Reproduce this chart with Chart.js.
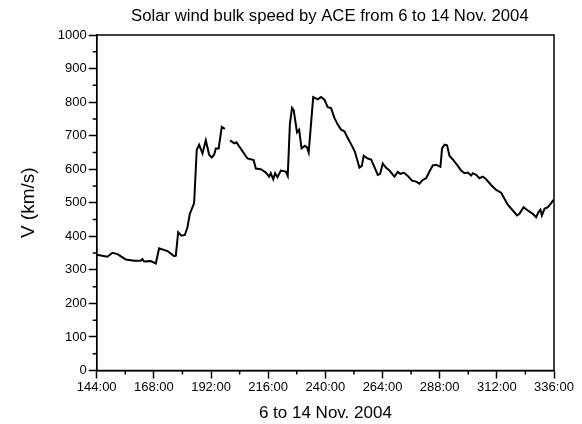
<!DOCTYPE html>
<html>
<head>
<meta charset="utf-8">
<script src="https://cdn.jsdelivr.net/npm/chart.js@4.4.1/dist/chart.umd.min.js"></script>
<style>
  html, body { margin: 0; padding: 0; background: #fff; }
  #wrap { width: 582px; height: 424px; }
</style>
</head>
<body>
<div id="wrap"><canvas id="windChart" width="582" height="424"></canvas></div>
<script>
// hours since start of Nov 2004 (144 = 6 Nov 00:00)
const hours = [
    144.0, 148.5, 150.6, 152.7, 156.2, 159.7, 162.5, 163.2, 163.9, 166.7,
    168.8, 170.2, 173.7, 176.5, 177.2, 178.2, 179.6, 181.0, 182.1, 183.1,
    184.9, 186.0, 187.0, 188.4, 189.8, 191.2, 192.3, 193.3, 194.0, 195.2,
    196.5, 197.8, 199.0, 200.0, 201.7, 202.7, 203.8, 207.3, 209.9, 210.8,
    212.9, 215.0, 216.4, 217.1, 218.1, 218.9, 219.9, 221.3, 223.4, 224.2,
    225.1, 226.0, 226.7, 228.1, 229.0, 230.0, 231.4, 232.3, 233.0, 234.9,
    236.8, 238.2, 239.6, 241.0, 242.4, 243.8, 245.2, 246.6, 248.0, 249.4,
    251.5, 252.4, 254.3, 255.3, 256.1, 257.8, 259.2, 260.9, 262.0, 263.0,
    264.1, 265.5, 266.9, 269.0, 270.4, 271.5, 272.9, 274.6, 276.4, 278.1,
    279.5, 280.9, 282.3, 283.7, 285.1, 286.5, 288.3, 289.0, 290.0, 291.1,
    292.1, 293.5, 295.3, 297.0, 298.4, 299.8, 301.2, 301.9, 303.3, 304.7,
    306.1, 307.5, 309.6, 311.7, 313.8, 315.2, 316.6, 318.7, 320.5, 321.5,
    323.2, 325.0, 327.1, 328.5, 329.5, 330.3, 330.9, 332.0, 333.4, 334.8,
    335.8
];
// bulk speed V (km/s); null = data gap
const speeds = [
    345, 339, 351, 347, 331, 327, 327, 332, 325, 326,
    319, 364, 356, 341, 342, 412, 402, 404, 427, 467,
    499, 658, 673, 647, 686, 643, 635, 643, 662, 662,
    726, 720, null, 686, 677, 680, 668, 632, 627, 602,
    600, 590, 578, 588, 570, 588, 576, 596, 593, 580,
    733, 783, 776, 710, 718, 662, 670, 665, 650, 815,
    808, 815, 807, 785, 782, 753, 733, 718, 713, 693,
    665, 652, 605, 610, 640, 632, 629, 602, 583, 586,
    617, 604, 596, 578, 592, 586, 590, 580, 566, 563,
    557, 568, 573, 593, 611, 613, 607, 662, 673, 671,
    640, 629, 613, 596, 588, 590, 581, 588, 583, 573,
    578, 570, 553, 538, 530, 512, 494, 477, 462, 467,
    487, 477, 467, 457, 472, 479, 462, 482, 487, 499,
    509
];

const xMin = 144, xMax = 336, xStep = 24;
const yMin = 0, yMax = 1000, yStep = 100;

const chartTitle = 'Solar wind bulk speed by ACE from 6 to 14 Nov. 2004';
const font = 'Liberation Sans, Arial, sans-serif';

const points = hours.map((h, i) => ({ x: h, y: speeds[i] }));

// short minor ticks, box frame around the plot, and the title above it
const frameAndMinorTicks = {
    id: 'frameAndMinorTicks',
    afterDraw(chart) {
        const ctx = chart.ctx;
        const area = chart.chartArea;
        const xs = chart.scales.x;
        const ys = chart.scales.y;
        ctx.save();
        ctx.strokeStyle = '#000';
        ctx.lineWidth = 1.5;
        ctx.beginPath();
        xs.ticks.forEach(t => {
            if (t.value % xStep !== 0) {
                const px = xs.getPixelForValue(t.value);
                ctx.moveTo(px, area.bottom);
                ctx.lineTo(px, area.bottom + 4);
            }
        });
        ys.ticks.forEach(t => {
            if (t.value % yStep !== 0) {
                const py = ys.getPixelForValue(t.value);
                ctx.moveTo(area.left, py);
                ctx.lineTo(area.left - 4, py);
            }
        });
        ctx.stroke();
        ctx.strokeRect(area.left, area.top, area.right - area.left, area.bottom - area.top);

        ctx.fillStyle = '#000';
        ctx.font = '16.7px ' + font;
        ctx.textAlign = 'center';
        ctx.textBaseline = 'middle';
        ctx.fillText(chartTitle, (area.left + area.right) / 2 + 4.5, 16);
        ctx.restore();
    }
};

new Chart(document.getElementById('windChart').getContext('2d'), {
    type: 'line',
    data: {
        datasets: [{
            data: points,
            borderColor: '#000',
            borderWidth: 2,
            pointRadius: 0,
            tension: 0,
            spanGaps: false,
            fill: false
        }]
    },
    options: {
        responsive: false,
        animation: false,
        layout: { padding: { left: 17, right: 28, top: 35, bottom: 0 } },
        plugins: {
            legend: { display: false },
            tooltip: { enabled: false },
            title: { display: false }
        },
        scales: {
            x: {
                type: 'linear',
                min: xMin,
                max: xMax,
                border: { display: true, color: '#000', width: 1.5 },
                grid: {
                    drawOnChartArea: false,
                    tickLength: 8,
                    tickWidth: 1.5,
                    tickColor: c => (c.tick && c.tick.value % xStep === 0) ? '#000' : 'rgba(0,0,0,0)'
                },
                ticks: {
                    stepSize: xStep / 2,
                    autoSkip: false,
                    maxRotation: 0,
                    padding: 1,
                    color: '#000',
                    font: { family: font, size: 13 },
                    callback: v => (v % xStep === 0) ? v + ':00' : ''
                },
                title: {
                    display: true,
                    text: '6 to 14 Nov. 2004',
                    color: '#000',
                    font: { family: font, size: 17 },
                    padding: { top: 7.5, bottom: 0 }
                }
            },
            y: {
                min: yMin,
                max: yMax,
                border: { display: true, color: '#000', width: 1.5 },
                grid: {
                    drawOnChartArea: false,
                    tickLength: 8,
                    tickWidth: 1.5,
                    tickColor: c => (c.tick && c.tick.value % yStep === 0) ? '#000' : 'rgba(0,0,0,0)'
                },
                ticks: {
                    stepSize: yStep / 2,
                    autoSkip: false,
                    padding: 2,
                    color: '#000',
                    font: { family: font, size: 13 },
                    callback: v => (v % yStep === 0) ? v : ''
                },
                title: {
                    display: true,
                    text: 'V (km/s)',
                    color: '#000',
                    font: { family: font, size: 19 },
                    padding: { top: 0, bottom: 16 }
                }
            }
        }
    },
    plugins: [frameAndMinorTicks]
});
</script>
</body>
</html>
